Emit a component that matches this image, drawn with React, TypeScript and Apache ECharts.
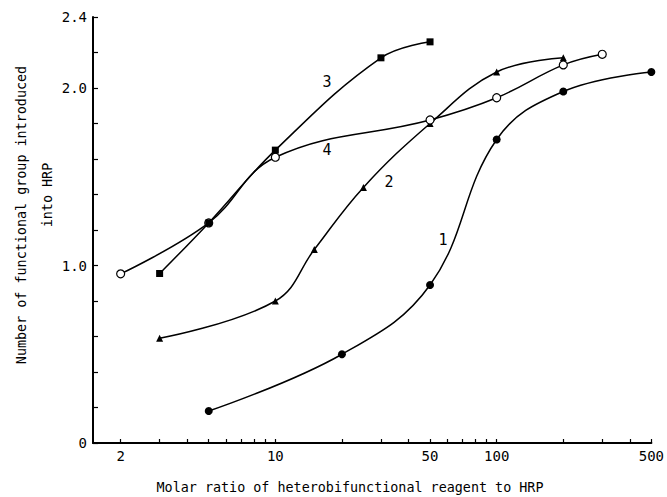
import React, { useEffect, useRef } from "react";
import * as echarts from "echarts";

const ratios1 = [5, 20, 50, 100, 200, 500];
const values1 = [0.18, 0.5, 0.89, 1.71, 1.98, 2.09];
const ratios2 = [3, 10, 15, 25, 50, 100, 200];
const values2 = [0.59, 0.8, 1.09, 1.44, 1.8, 2.09, 2.17];
const ratios3 = [3, 5, 10, 30, 50];
const values3 = [0.955, 1.24, 1.65, 2.17, 2.26];
const ratios4 = [2, 5, 10, 50, 100, 200, 300];
const values4 = [0.953, 1.24, 1.61, 1.82, 1.945, 2.13, 2.19];

const xLabelValues = [2, 10, 50, 100, 500];
const xTickValues = [2, 3, 4, 5, 6, 7, 8, 9, 10, 20, 30, 40, 50, 60, 70, 80, 90, 100, 200, 300, 400, 500];
const yLabelValues = [0, 1.0, 2.0, 2.4];
const yTickValues = [0, 0.2, 0.4, 0.6, 0.8, 1.0, 1.2, 1.4, 1.6, 1.8, 2.0, 2.2, 2.4];

const curveNames = ["1", "2", "3", "4"];
const xAxisName = "Molar ratio of heterobifunctional reagent to HRP";
const yAxisName1 = "Number of functional group introduced";
const yAxisName2 = "into HRP";

const FONT = "DejaVu Sans Mono";

function pts(xs: number[], ys: number[]) {
  return xs.map((x, i) => [Math.log10(x), ys[i]]);
}

export default function App() {
  const ref = useRef<HTMLDivElement>(null);
  useEffect(() => {
    if (!ref.current) return;
    const chart = echarts.init(ref.current, null, { renderer: "svg" });
    const lineStyle = { color: "#000", width: 1.5 };
    const baseSeries = {
      type: "line" as const,
      smooth: 0.4,
      lineStyle,
      showSymbol: true,
    };
    chart.setOption({
      animation: false,
      backgroundColor: "#fff",
      grid: { left: 93, right: 15, top: 17, bottom: 54 },
      xAxis: {
        type: "value",
        min: Math.log10(1.5),
        max: Math.log10(500),
        axisLine: { onZero: false, lineStyle: { color: "#000", width: 2 } },
        axisTick: {
          show: true,
          inside: true,
          length: 4,
          lineStyle: { color: "#000", width: 1.2 },
          customValues: xTickValues.map((v) => Math.log10(v)),
        },
        axisLabel: {
          margin: 6,
          color: "#000",
          fontSize: 14,
          fontFamily: FONT,
          customValues: xLabelValues.map((v) => Math.log10(v)),
          formatter: (v: number) => String(Math.round(Math.pow(10, v))),
        },
        splitLine: { show: false },
      },
      yAxis: {
        type: "value",
        min: 0,
        max: 2.4,
        axisLine: { show: true, lineStyle: { color: "#000", width: 2 } },
        axisTick: {
          show: true,
          inside: true,
          length: 5,
          lineStyle: { color: "#000", width: 1.2 },
          customValues: yTickValues,
        },
        axisLabel: {
          margin: 6,
          color: "#000",
          fontSize: 14,
          fontFamily: FONT,
          customValues: yLabelValues,
          formatter: (v: number) => (v === 0 ? "0" : v.toFixed(1)),
        },
        splitLine: { show: false },
      },
      series: [
        {
          ...baseSeries,
          name: curveNames[0],
          data: pts(ratios1, values1),
          symbol: "circle",
          symbolSize: 8,
          itemStyle: { color: "#000" },
          z: 2,
        },
        {
          ...baseSeries,
          name: curveNames[1],
          data: pts(ratios2, values2),
          symbol: "triangle",
          symbolSize: 7,
          itemStyle: { color: "#000" },
          z: 2,
        },
        {
          ...baseSeries,
          name: curveNames[3],
          data: pts(ratios4, values4),
          symbol: "circle",
          symbolSize: 8,
          itemStyle: { color: "#fff", borderColor: "#000", borderWidth: 1.2 },
          z: 3,
        },
        {
          ...baseSeries,
          name: curveNames[2],
          data: pts(ratios3, values3),
          symbol: "rect",
          symbolSize: 7,
          itemStyle: { color: "#000" },
          z: 4,
        },
      ],
      graphic: [
        { type: "text", x: 443, y: 240, style: { text: curveNames[0], font: `15px ${FONT}`, fill: "#000", align: "center", verticalAlign: "middle" } },
        { type: "text", x: 389, y: 182, style: { text: curveNames[1], font: `15px ${FONT}`, fill: "#000", align: "center", verticalAlign: "middle" } },
        { type: "text", x: 327, y: 82, style: { text: curveNames[2], font: `15px ${FONT}`, fill: "#000", align: "center", verticalAlign: "middle" } },
        { type: "text", x: 327, y: 150, style: { text: curveNames[3], font: `15px ${FONT}`, fill: "#000", align: "center", verticalAlign: "middle" } },
        { type: "text", x: 350, y: 487, style: { text: xAxisName, font: `13.4px ${FONT}`, fill: "#000", align: "center", verticalAlign: "middle" } },
        { type: "text", x: 21, y: 215, rotation: Math.PI / 2, style: { text: yAxisName1, font: `13.4px ${FONT}`, fill: "#000", align: "center", verticalAlign: "middle" } },
        { type: "text", x: 47, y: 195, rotation: Math.PI / 2, style: { text: yAxisName2, font: `13.4px ${FONT}`, fill: "#000", align: "center", verticalAlign: "middle" } },
      ],
    });
    return () => chart.dispose();
  }, []);
  return <div ref={ref} style={{ position: "fixed", left: 0, top: 0, width: 667, height: 497 }} />;
}
